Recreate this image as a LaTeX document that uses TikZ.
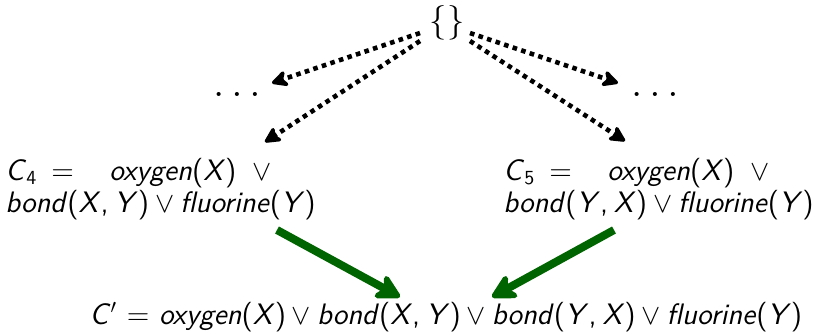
\documentclass[tikz,border=0pt]{standalone}
\usetikzlibrary{arrows.meta,calc}
\definecolor{dkgreen}{RGB}{0,100,0}
\newcommand\vv{\hspace{0.2em}$\vee$\hspace{0.2em}}
\newcommand\ii[1]{\textit{#1}}
\newcommand\cm{,\hspace{0.2em}}
\begin{document}
\begin{tikzpicture}[x=0.5pt,y=-0.5pt,
  txt/.style={font=\sffamily\fontsize{14.8}{14.5}\selectfont, inner sep=0pt},
  bigtxt/.style={font=\sffamily\fontsize{22}{22}\selectfont, inner sep=0pt},
  dotarrow/.style={line width=2.3pt, dash pattern=on 2.3pt off 2.2pt, -{Stealth[round,length=10pt,width=10pt,inset=3pt]}},
  grarrow/.style={line width=4pt, dkgreen, -{Stealth[round,length=15pt,width=16pt,inset=4.5pt]}}]
\useasboundingbox (0,0) rectangle (816,334);
\node[font=\fontsize{16}{16}\selectfont, inner sep=0pt] (empty) at (447,23) {$\{\}$};
\node[bigtxt, anchor=base] (dl) at (237,96) {$\ldots$};
\node[bigtxt, anchor=base] (dr) at (655,96) {$\ldots$};
\node[txt, anchor=base west, align=left] (c4) at (5,212)
  {\makebox[23pt][l]{\ii{C}$_{\mathsf{4}}$}\makebox[29pt][l]{=}\ii{oxygen}(\ii{X})\hspace{8pt}$\vee$\\
   \ii{bond}(\ii{X}\cm\ii{Y})\vv\ii{fluorine}(\ii{Y})};
\node[txt, anchor=base west, align=left] (c5) at (503,212)
  {\makebox[23pt][l]{\ii{C}$_{\mathsf{5}}$}\makebox[29pt][l]{=}\ii{oxygen}(\ii{X})\hspace{8pt}$\vee$\\
   \ii{bond}(\ii{Y}\cm\ii{X})\vv\ii{fluorine}(\ii{Y})};
\node[txt, anchor=base] (cp) at (446,324)
  {\ii{C}$'$ = \ii{oxygen}(\ii{X})\vv\ii{bond}(\ii{X}\cm\ii{Y})\vv\ii{bond}(\ii{Y}\cm\ii{X})\vv\ii{fluorine}(\ii{Y})};
\coordinate (l1) at (420,33);
\coordinate (l2) at (420,41);
\coordinate (r1) at (470,33);
\coordinate (r2) at (470,41);
\coordinate (tl1) at (272,83);
\coordinate (tl2) at (265,142);
\coordinate (tr1) at (618,83);
\coordinate (tr2) at (625,141);
\draw[dotarrow] (l1) -- (tl1);
\draw[dotarrow] (l2) -- (tl2);
\draw[dotarrow] (r1) -- (tr1);
\draw[dotarrow] (r2) -- (tr2);
\coordinate (g1) at (277,230);
\coordinate (g2) at (614,230);
\coordinate (h1) at (400,297);
\coordinate (h2) at (492,297);
\draw[grarrow] (g1) -- (h1);
\draw[grarrow] (g2) -- (h2);
\end{tikzpicture}
\end{document}
